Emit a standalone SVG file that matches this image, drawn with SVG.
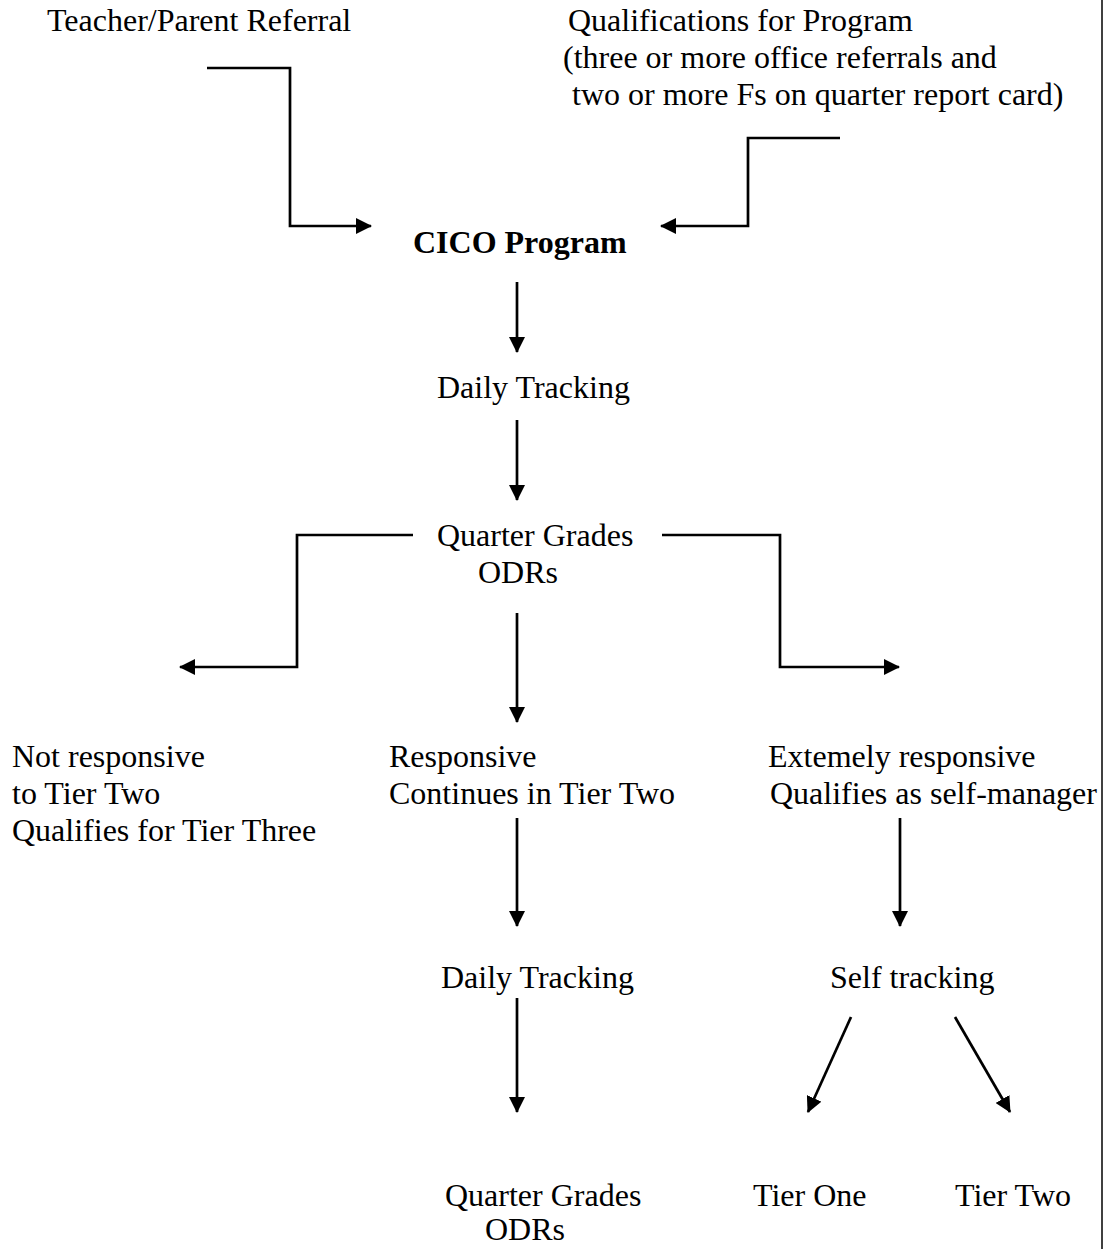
<svg xmlns="http://www.w3.org/2000/svg" width="1108" height="1249" viewBox="0 0 1108 1249">
<style>
text{font-family:"Liberation Serif","Times New Roman",serif;font-size:32px;fill:#000}
.b{font-weight:bold}
.c{fill:none;stroke:#000;stroke-width:2.7;marker-end:url(#ah)}
</style>
<defs>
<marker id="ah" markerUnits="userSpaceOnUse" markerWidth="16" markerHeight="16" refX="15" refY="8" orient="auto"><path d="M0,0 L16,8 L0,16 z" fill="#000"/></marker>
</defs>
<rect width="1108" height="1249" fill="#fff"/>
<line x1="1102" y1="0" x2="1102" y2="1249" stroke="#000" stroke-width="1.5"/>
<g id="connectors">
<path class="c" d="M207,68 H290 V226 H371"/>
<path class="c" d="M840,138 H748 V226 H661"/>
<path class="c" d="M517,282 V352"/>
<path class="c" d="M517,420 V500"/>
<path class="c" d="M413,535 H297 V667 H180"/>
<path class="c" d="M662,535 H780 V667 H899"/>
<path class="c" d="M517,613 V722"/>
<path class="c" d="M517,818 V926"/>
<path class="c" d="M517,998 V1112"/>
<path class="c" d="M900,818 V926"/>
<path class="c" d="M851,1017 L808,1112"/>
<path class="c" d="M955,1017 L1010,1112"/>
</g>
<g id="teacher"><text x="47" y="31">Teacher/Parent Referral</text></g>
<g id="qualifications"><text x="568" y="31">Qualifications for Program</text><text x="563" y="68">(three or more office referrals and</text><text x="572" y="105">two or more Fs on quarter report card)</text></g>
<g id="cico"><text class="b" x="413" y="253">CICO Program</text></g>
<g id="daily1"><text x="437" y="398">Daily Tracking</text></g>
<g id="quarter1"><text x="437" y="546">Quarter Grades</text><text x="478" y="583">ODRs</text></g>
<g id="notresp"><text x="12" y="767">Not responsive</text><text x="12" y="804">to Tier Two</text><text x="12" y="841">Qualifies for Tier Three</text></g>
<g id="resp"><text x="389" y="767">Responsive</text><text x="389" y="804">Continues in Tier Two</text></g>
<g id="extreme"><text x="768" y="767">Extemely responsive</text><text x="770" y="804">Qualifies as self-manager</text></g>
<g id="daily2"><text x="441" y="988">Daily Tracking</text></g>
<g id="self"><text x="830" y="988">Self tracking</text></g>
<g id="quarter2"><text x="445" y="1206">Quarter Grades</text><text x="485" y="1240">ODRs</text></g>
<g id="tier1"><text x="753" y="1206">Tier One</text></g>
<g id="tier2"><text x="955" y="1206">Tier Two</text></g>
</svg>
